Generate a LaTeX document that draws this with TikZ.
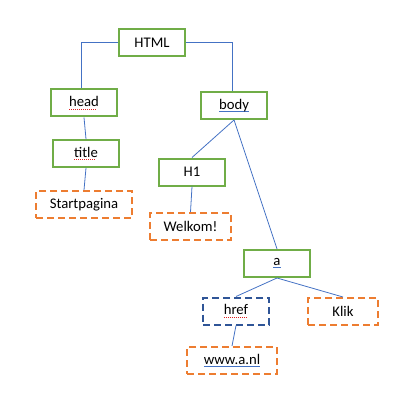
\documentclass[tikz,border=0pt]{standalone}
\usepackage{fontspec}
\setmainfont{Carlito}
\usetikzlibrary{positioning}
\definecolor{TreeGreen}{HTML}{70AD47}
\definecolor{TreeOrange}{HTML}{ED7D31}
\definecolor{TreeNavy}{HTML}{2F5597}
\definecolor{TreeLine}{HTML}{4472C4}
\definecolor{SpellRed}{HTML}{E02020}
% spelling marks as in the reference
\newcommand\spellmark[1]{\setbox0\hbox{#1}\rlap{\hbox to \wd0{\color{SpellRed}\leaders\hbox{\rule[-3pt]{1pt}{0.8pt}\hspace{1pt}}\hfill}}\box0}
\newcommand\grammark[1]{\setbox0\hbox{#1}\rlap{\textcolor{TreeLine}{\rule[-2.5pt]{\wd0}{0.9pt}}}\box0}

\begin{document}
\begin{tikzpicture}[x=1pt,y=-1pt,font=\fontsize{14.7}{17}\selectfont,
    elem/.style={draw=TreeGreen,line width=2pt,fill=white,minimum width=66pt,minimum height=27pt,inner sep=0pt},
    txt/.style={draw=TreeOrange,line width=2pt,dash pattern=on 7pt off 4pt,fill=white,minimum height=27pt,inner sep=0pt},
    attr/.style={txt,draw=TreeNavy},
    edge/.style={draw=TreeLine,line width=0.8pt}]
  \useasboundingbox (0,0) rectangle (403,414);
  \node[elem] (html) at (152,42.5) {HTML};
  \node[elem] (head) at (84,103) {\spellmark{head}};
  \node[elem] (body) at (234,105.5) {\grammark{body}};
  \node[elem] (title) at (86,153.5) {\spellmark{title}};
  \node[txt,minimum width=96pt] (start) at (84,204.5) {Startpagina};
  \node[elem] (h1) at (192,172) {H1};
  \node[txt,minimum width=81pt] (welkom) at (190.5,226.5) {Welkom!};
  \node[elem] (a) at (277,263.5) {\grammark{a}};
  \node[attr,minimum width=66pt] (href) at (236,311) {\spellmark{href}};
  \node[txt,minimum width=70pt] (klik) at (343,311.5) {Klik};
  \node[txt,minimum width=90pt] (url) at (232,360.5) {\grammark{www.a.nl}};
  \draw[edge] (html.west) -| ([xshift=-3pt]head.north);
  \draw[edge] (html.east) -| ([xshift=-2pt]body.north);
  \draw[edge] (head.south) -- (title.north);
  \draw[edge] (title.south) -- (start.north);
  \draw[edge] (body.south) -- (h1.north);
  \draw[edge] (body.south) -- (a.north);
  \draw[edge] (h1.south) -- (welkom.north);
  \draw[edge] (a.south) -- (href.north);
  \draw[edge] (a.south) -- (klik.north);
  \draw[edge] (href.south) -- (url.north);
\end{tikzpicture}
\end{document}
